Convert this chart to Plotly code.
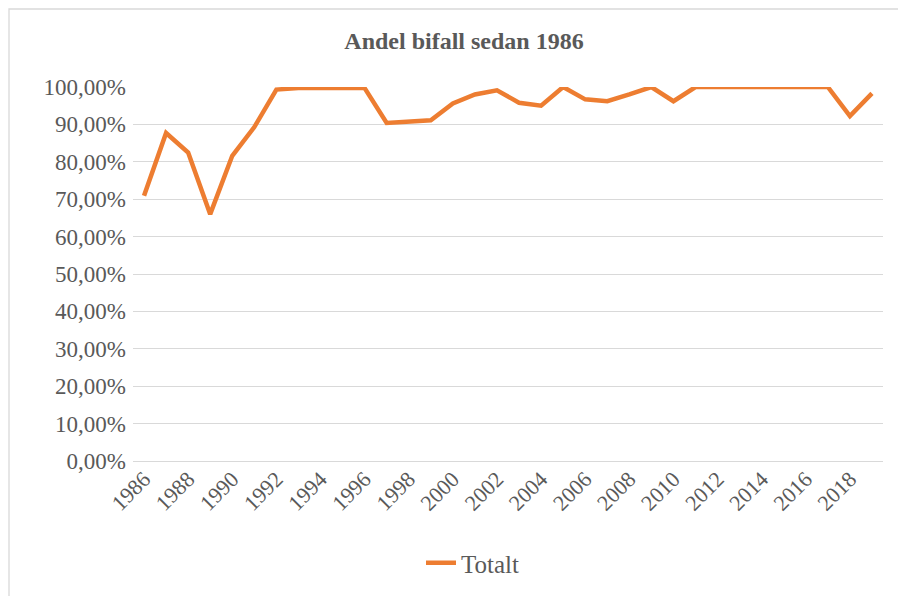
import plotly.graph_objects as go

years = [str(y) for y in range(1986, 2020)]
andel = [0.709, 0.877, 0.825, 0.660, 0.816, 0.893, 0.993, 0.997, 0.997, 0.997,
         0.997, 0.904, 0.907, 0.911, 0.956, 0.980, 0.991, 0.958, 0.950, 1.000,
         0.967, 0.962, 0.980, 1.000, 0.962, 1.000, 1.000, 1.000, 1.000, 1.000,
         1.000, 1.000, 0.922, 0.983]
series_name = "Totalt"
title_text = "Andel bifall sedan 1986"
y_ticks = [i / 10 for i in range(0, 11)]
x_ticks = years[::2]

FONT = "Liberation Serif"
TXT = "#595959"
GRID = "#D9D9D9"
ORANGE = "#ED7D31"

# page body has an 8px margin, so figure coords = screen coords - 8
L, R, T, B = 125, 875, 79, 453
W, H = 906, 596
PW, PH = R - L, B - T

fig = go.Figure()
fig.add_trace(go.Scatter(
    x=years, y=andel, mode="lines", name=series_name,
    line=dict(color=ORANGE, width=4.5),
))

fig.update_layout(
    width=W, height=H,
    margin=dict(l=L, r=W - R, t=T, b=H - B),
    paper_bgcolor="white", plot_bgcolor="white",
    separators=",.",
    font=dict(family=FONT, size=22, color=TXT),
    title=dict(text="<b>" + title_text + "</b>", x=456 / W, xref="container",
               xanchor="center", y=1 - 33 / H, yref="container", yanchor="middle",
               font=dict(family=FONT, size=24, color=TXT)),
    showlegend=True,
    legend=dict(orientation="h", x=(465 - L) / PW, xanchor="center",
                y=(B - 555) / PH, yanchor="middle",
                font=dict(family=FONT, size=25, color=TXT)),
    xaxis=dict(type="category", range=[-0.5, len(years) - 0.5],
               tickmode="array", tickvals=x_ticks, ticktext=x_ticks,
               tickangle=-45, showgrid=False, showline=False, ticks="",
               tickfont=dict(family=FONT, size=22, color=TXT)),
    yaxis=dict(range=[0, 1.0], tickmode="array", tickvals=y_ticks, tickformat=".2%",
               showgrid=True, gridcolor=GRID, gridwidth=1.3, zeroline=True,
               zerolinecolor=GRID, zerolinewidth=1.3, showline=False, ticks="",
               ticklabelstandoff=6,
               tickfont=dict(family=FONT, size=23, color=TXT)),
    shapes=[dict(type="rect", xref="paper", yref="paper",
                 x0=(1 - L) / PW, x1=(W + 20 - L) / PW,
                 y0=(B - H - 20) / PH, y1=(B - 1) / PH,
                 line=dict(color=GRID, width=1.3), fillcolor="rgba(0,0,0,0)",
                 layer="below")],
)

fig.write_html("out.html")
